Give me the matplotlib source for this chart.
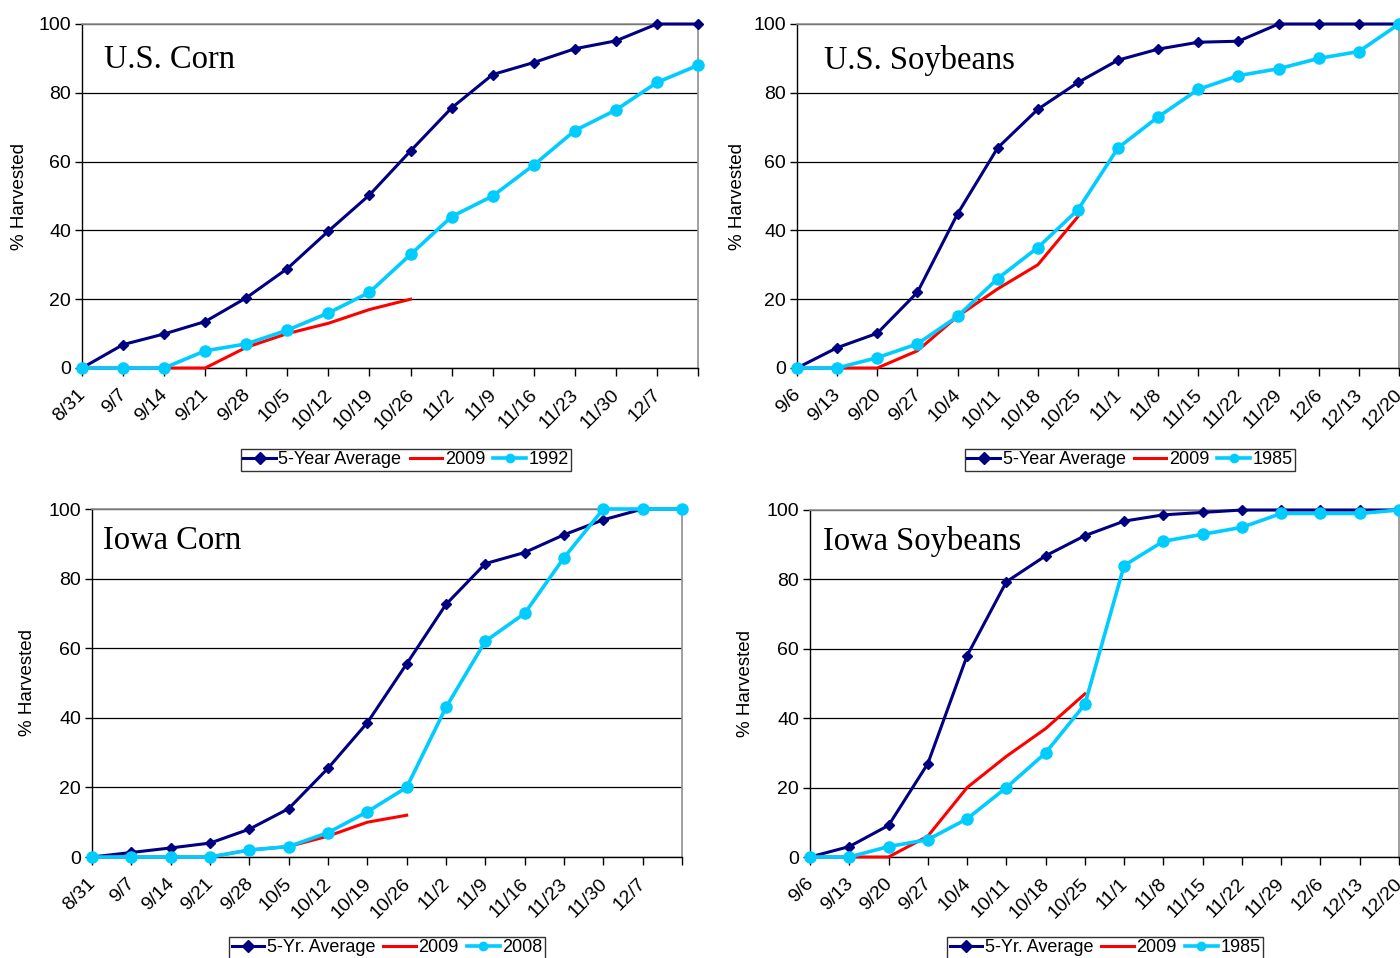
import matplotlib
matplotlib.use("Agg")
import matplotlib.pyplot as plt
from matplotlib import font_manager
from matplotlib.transforms import ScaledTranslation

# Corn weeks (last point 12/14 has no label)
corn_dates = ["8/31", "9/7", "9/14", "9/21", "9/28", "10/5", "10/12", "10/19",
              "10/26", "11/2", "11/9", "11/16", "11/23", "11/30", "12/7", ""]
soy_dates = ["9/6", "9/13", "9/20", "9/27", "10/4", "10/11", "10/18", "10/25",
             "11/1", "11/8", "11/15", "11/22", "11/29", "12/6", "12/13", "12/20"]

# U.S. Corn
us_corn_avg = [0, 6.8, 9.9, 13.5, 20.4, 28.9, 39.8, 50.3, 63.1, 75.6, 85.3, 88.8, 92.8, 95.1, 100, 100]
us_corn_2009 = [0, 0, 0, 0, 6, 10, 13, 17, 20]
us_corn_1992 = [0, 0, 0, 5, 7, 11, 16, 22, 33, 44, 50, 59, 69, 75, 83, 88]

# U.S. Soybeans
us_soy_avg = [0, 5.9, 10.1, 22, 44.8, 64, 75.2, 83, 89.5, 92.7, 94.7, 95, 100, 100, 100, 100]
us_soy_2009 = [0, 0, 0, 5, 15, 23, 30, 44]
us_soy_1985 = [0, 0, 3, 7, 15, 26, 35, 46, 64, 73, 81, 85, 87, 90, 92, 100]

# Iowa Corn
ia_corn_avg = [0, 1.3, 2.6, 4, 8, 13.9, 25.5, 38.6, 55.5, 72.6, 84.3, 87.5, 92.6, 96.9, 100, 100]
ia_corn_2009 = [0, 0, 0, 0, 2, 3, 6, 10, 12]
ia_corn_2008 = [0, 0, 0, 0, 2, 3, 7, 13, 20, 43, 62, 70, 86, 100, 100, 100]

# Iowa Soybeans
ia_soy_avg = [0, 3, 9.1, 26.9, 58, 79.3, 86.8, 92.6, 96.8, 98.6, 99.3, 100, 100, 100, 100, 100]
ia_soy_2009 = [0, 0, 0, 6, 20, 29, 37, 47]
ia_soy_1985 = [0, 0, 3, 5, 11, 20, 30, 44, 84, 91, 93, 95, 99, 99, 99, 100]

NAVY = "#000080"
RED = "#FF0000"
CYAN = "#00CCFF"

sans = "Liberation Sans"
serif = "Liberation Serif"
try:
    font_manager.findfont(sans, fallback_to_default=False)
except Exception:
    sans = "DejaVu Sans"
try:
    font_manager.findfont(serif, fallback_to_default=False)
except Exception:
    serif = "DejaVu Serif"
plt.rcParams["font.family"] = sans

fig = plt.figure(figsize=(14, 9.58), dpi=100)
W, H = 1400.0, 958.0


def px_axes(l, r, t, b):
    return fig.add_axes([l / W, 1 - b / H, (r - l) / W, (b - t) / H])


panels = [
    # (box px, title, dates, avg, 2009, other, other label, avg label, title pos, ylabel x, legend center)
    ((82, 698, 24, 368), "U.S. Corn", corn_dates, us_corn_avg, us_corn_2009, us_corn_1992,
     "1992", "5-Year Average", (0.036, 0.897), 20, (406, 460)),
    ((797, 1399, 24, 368), "U.S. Soybeans", soy_dates, us_soy_avg, us_soy_2009, us_soy_1985,
     "1985", "5-Year Average", (0.045, 0.893), 738, (1130, 460)),
    ((92, 682, 509, 857), "Iowa Corn", corn_dates, ia_corn_avg, ia_corn_2009, ia_corn_2008,
     "2008", "5-Yr. Average", (0.019, 0.91), 28, (387, 948)),
    ((810, 1399, 510, 857), "Iowa Soybeans", soy_dates, ia_soy_avg, ia_soy_2009, ia_soy_1985,
     "1985", "5-Yr. Average", (0.022, 0.908), 745, (1105, 948)),
]

# nudge the rotated date labels a few pixels left of their ticks
shift = ScaledTranslation(-5 / 100, 0, fig.dpi_scale_trans)

for box, title, dates, avg, y2009, other, other_lbl, avg_lbl, tpos, ylx, legc in panels:
    ax = px_axes(*box)
    x = list(range(len(dates)))
    l1, = ax.plot(x[:len(avg)], avg, color=NAVY, lw=2.2, marker="D", ms=5.5,
                  clip_on=False, zorder=4)
    l2, = ax.plot(x[:len(y2009)], y2009, color=RED, lw=2.2, clip_on=False, zorder=3)
    l3, = ax.plot(x[:len(other)], other, color=CYAN, lw=2.6, marker="o", ms=8,
                  clip_on=False, zorder=5)

    ax.set_xlim(0, len(dates) - 1)
    ax.set_ylim(0, 100)
    ax.set_yticks([0, 20, 40, 60, 80, 100])
    ax.set_xticks(x)
    ax.set_xticklabels(dates, rotation=45, ha="right", rotation_mode="anchor")
    ax.tick_params(axis="x", direction="out", length=6, width=1, labelsize=14, pad=7)
    ax.tick_params(axis="y", direction="out", length=5, width=1, labelsize=14, pad=3)
    for lab in ax.get_xticklabels():
        lab.set_transform(lab.get_transform() + shift)
    ax.grid(axis="y", color="black", lw=0.9)
    ax.set_axisbelow(True)
    for side in ("left", "bottom"):
        ax.spines[side].set_color("black")
        ax.spines[side].set_linewidth(1)
    for side in ("top", "right"):
        ax.spines[side].set_color("#909090")
        ax.spines[side].set_linewidth(1.2)

    ax.text(tpos[0], tpos[1], title, transform=ax.transAxes, family=serif,
            fontsize=23.5, va="center", ha="left")
    fig.text(ylx / W, 1 - ((box[2] + box[3]) / 2) / H, "% Harvested", rotation=90,
             fontsize=13.5, ha="center", va="center")

    leg = fig.legend([l1, l2, l3], [avg_lbl, "2009", other_lbl], ncol=3,
                     loc="center", bbox_to_anchor=(legc[0] / W, 1 - legc[1] / H),
                     fontsize=13, frameon=True, fancybox=False, handlelength=1.8,
                     handletextpad=0.15, columnspacing=0.45, borderpad=0.15,
                     borderaxespad=0)
    leg.get_frame().set_edgecolor("black")
    leg.get_frame().set_linewidth(1)
    for h in leg.legend_handles:
        h.set_markersize(6)

fig.savefig("out.png", dpi=100)
